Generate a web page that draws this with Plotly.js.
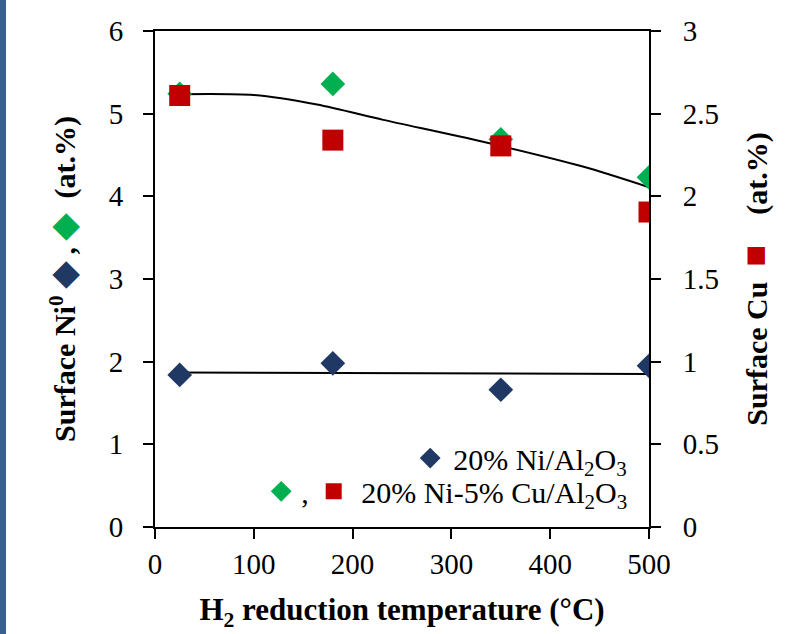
<!DOCTYPE html>
<html>
<head>
<meta charset="utf-8">
<script src="https://cdn.plot.ly/plotly-3.0.1.min.js"></script>
<style>
  html, body { margin: 0; padding: 0; background: #fff; }
  #wrap { position: relative; width: 808px; height: 634px; }
  #strip { position: absolute; left: 0; top: 0; width: 6px; height: 634px; background: #3b5f90; z-index: 5; }
  #chart { width: 808px; height: 634px; }
</style>
</head>
<body>
<div id="wrap"><div id="strip"></div><div id="chart"></div></div>
<script>
// ---- data ----
const temps = [25, 180, 350, 500];
const niAlone = [1.84, 1.98, 1.66, 1.95];        // 20% Ni/Al2O3, surface Ni0 (left axis)
const niCu_Ni = [5.24, 5.36, 4.69, 4.23];        // 20% Ni-5% Cu/Al2O3, surface Ni0 (left axis)
const niCu_Cu = [2.61, 2.34, 2.305, 1.905];      // 20% Ni-5% Cu/Al2O3, surface Cu (right axis)
// trend lines as drawn in the reference
const trendNiX = [25, 500];
const trendNiY = [1.87, 1.85];
const trendNiCuX = [25, 100, 164, 231, 332, 433, 500];
const trendNiCuY = [5.235, 5.225, 5.11, 4.925, 4.66, 4.36, 4.11];
const xTicks = [0, 100, 200, 300, 400, 500];

const navy = '#1f3864', green = '#00b050', red = '#c00000';
const serif = 'Liberation Serif';

const traces = [
  { x: trendNiX, y: trendNiY, mode: 'lines', line: {color: '#000', width: 2}, showlegend: false, hoverinfo: 'skip' },
  { x: trendNiCuX, y: trendNiCuY, mode: 'lines', line: {color: '#000', width: 2, shape: 'spline', smoothing: 0.8}, showlegend: false, hoverinfo: 'skip' },
  { x: temps, y: niAlone, mode: 'markers', name: '20% Ni/Al<sub>2</sub>O<sub>3</sub>',
    marker: {symbol: 'diamond', size: 19, color: navy}, legend: 'legend' },
  { x: temps, y: niCu_Ni, mode: 'markers', name: ',',
    marker: {symbol: 'diamond', size: 19, color: green}, legend: 'legend2' },
  { x: temps, y: niCu_Cu, mode: 'markers', name: '&nbsp;20% Ni-5% Cu/Al<sub>2</sub>O<sub>3</sub>', yaxis: 'y2',
    marker: {symbol: 'square', size: 21, color: red}, legend: 'legend2' }
];

const axisCommon = {
  showgrid: false, zeroline: false, showline: true, linecolor: '#000', linewidth: 2,
  ticks: 'outside', ticklen: 10, tickwidth: 2, tickcolor: '#000',
  tickfont: {family: serif, size: 29, color: '#000'}
};

const layout = {
  width: 808, height: 634,
  font: {family: serif, size: 28, color: '#000'},
  margin: {l: 155, r: 159, t: 31, b: 107},
  paper_bgcolor: '#fff', plot_bgcolor: '#fff',
  xaxis: Object.assign({}, axisCommon, {
    range: [0, 500], tickvals: xTicks, mirror: true, ticklabelstandoff: 0,
    title: {text: '<b>H<sub>2</sub> reduction temperature (°C)</b>', font: {family: serif, size: 31, color: '#000'}, standoff: 20}
  }),
  yaxis: Object.assign({}, axisCommon, {
    range: [0, 6], dtick: 1, ticklabelstandoff: 14,
    title: {text: "<b>Surface Ni<sup>0</sup> <span style='color:" + navy + ";font-size:34px'>◆</span>&nbsp;,&nbsp;<span style='color:" + green + ";font-size:34px'>◆</span>&nbsp;&nbsp;(at.%)</b>",
      font: {family: serif, size: 30, color: '#000'}, standoff: 24}
  }),
  yaxis2: Object.assign({}, axisCommon, {
    range: [0, 3], dtick: 0.5, overlaying: 'y', side: 'right', ticklabelstandoff: 16,
    title: {text: "<b>Surface Cu&nbsp; <span style='color:" + red + ";font-size:36px'>■</span>&nbsp;&nbsp;&nbsp;&nbsp;(at.%)</b>",
      font: {family: serif, size: 30, color: '#000'}, standoff: 28}
  }),
  legend: { x: 0.966, xanchor: 'right', y: 0.139, yanchor: 'middle', bgcolor: 'rgba(0,0,0,0)', itemwidth: 36,
    font: {family: serif, size: 30, color: '#000'} },
  legend2: { x: 0.966, xanchor: 'right', y: 0.072, yanchor: 'middle', orientation: 'h', bgcolor: 'rgba(0,0,0,0)', itemwidth: 30,
    font: {family: serif, size: 30, color: '#000'} },
  showlegend: true
};

Plotly.newPlot('chart', traces, layout, {displayModeBar: false, staticPlot: true});
</script>
</body>
</html>
